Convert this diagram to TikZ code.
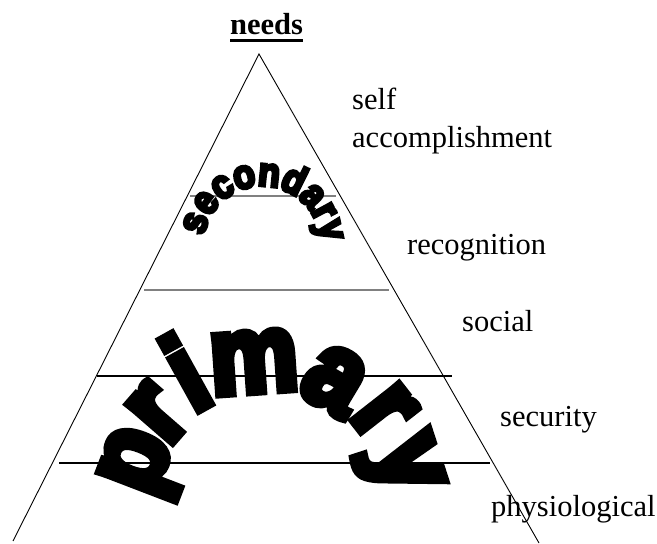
\documentclass[tikz,border=0pt]{standalone}
\usepackage{fontspec}
\usepackage{graphicx}
\setmainfont{Liberation Serif}
\newfontfamily\heavyfont[FakeBold=8]{Liberation Sans Bold}
\usetikzlibrary{calc}
\begin{document}
\begin{tikzpicture}[x=1pt,y=1pt,
  side/.style={line width=0.9pt,black},
  tier/.style={line width=1.1pt,black},
  greytier/.style={line width=1.6pt,gray},
  lab/.style={anchor=base west,inner sep=0pt,font=\fontsize{30.5}{36}\selectfont},
  primletter/.style={anchor=center,inner sep=0pt,font=\heavyfont\fontsize{90}{90}\selectfont},
  secletter/.style={anchor=base,inner sep=0pt,font=\heavyfont\fontsize{34}{34}\selectfont}]
\useasboundingbox (0,0) rectangle (657,544);
% triangle
\coordinate (apex) at (259,490);
\coordinate (bl) at (13,3);
\coordinate (br) at (539,1);
\draw[side] (bl) -- (apex) -- (br);
% tiers
\coordinate (t1a) at (190,348); \coordinate (t1b) at (336,348);
\coordinate (t2a) at (144,254); \coordinate (t2b) at (389,254);
\coordinate (t3a) at (97,168);  \coordinate (t3b) at (452,168);
\coordinate (t4a) at (59,81);   \coordinate (t4b) at (490,81);
\draw[greytier] (t1a) -- (t1b);
\draw[greytier] (t2a) -- (t2b);
\draw[tier] (t3a) -- (t3b);
\draw[tier] (t4a) -- (t4b);
% labels
\node[lab,font=\bfseries\fontsize{30.5}{36}\selectfont] (needs) at (230,509) {needs};
\draw[line width=2.5pt] ([yshift=-5.5pt]needs.base west) -- ([yshift=-5.5pt]needs.base east);
\node[lab] (self) at (352,434) {self};
\node[lab] (acc) at (352,396) {accomplishment};
\node[lab] (rec) at (407,289) {recognition};
\node[lab] (soc) at (462,212) {social};
\node[lab] (sec) at (500,117) {security};
\node[lab] (phy) at (491,27) {physiological};
% secondary arc text
\coordinate (sc) at (262,299);
\foreach \ch/\c [count=\k] in {s/0.278,e/0.834,c/1.39,o/1.9735,n/2.5845,d/3.1955,a/3.779,r/4.2515,y/4.724}{
  \pgfmathsetmacro\ang{87+(2.501-\c)*33.6}
  \node[secletter,rotate=\ang-90] (secl\k) at ($(sc)+(\ang:59)$) {\scalebox{1.05}[1.2]{\ch}};
}
% primary arc text
\foreach \ch/\px/\py/\rot [count=\k] in {p/145/80/69, r/158/130.5/49, i/185.5/172/29, m/254/182/4, a/334.5/164/-31, r/384/132/-52, y/398/77/-72}{
  \node[primletter,rotate=\rot] (priml\k) at (\px,\py) {\scalebox{1.1}[1.22]{\ch}};
}
\end{tikzpicture}
\end{document}
